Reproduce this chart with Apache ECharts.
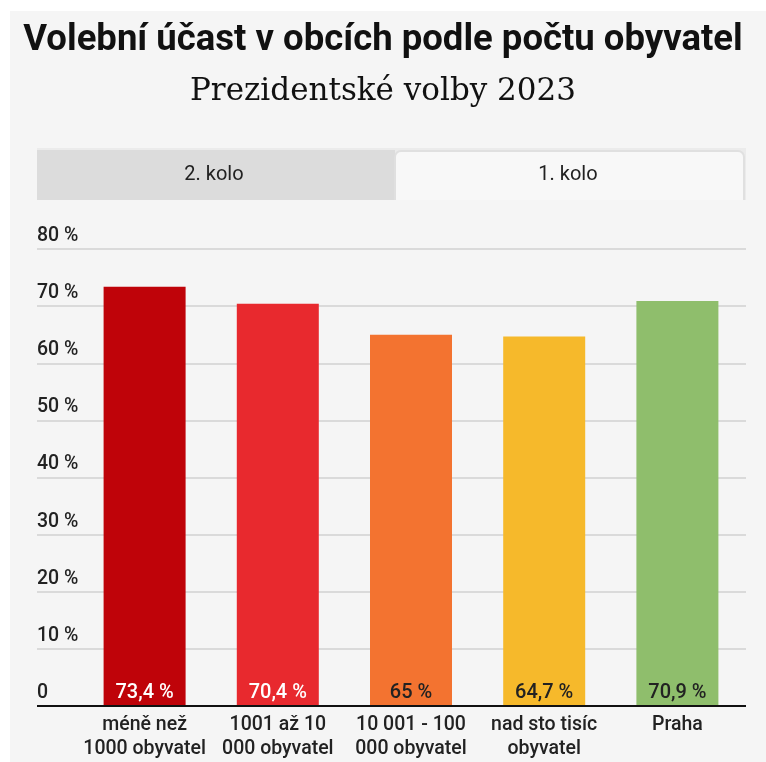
<!DOCTYPE html>
<html lang="cs">
<head>
<meta charset="utf-8">
<title>Volební účast v obcích podle počtu obyvatel</title>
<script src="https://cdn.jsdelivr.net/npm/echarts@6/dist/echarts.min.js"></script>
<style>
    html, body { margin: 0; padding: 0; background: #ffffff; }
    #panel { position: absolute; left: 10px; top: 11px; width: 756px; height: 751px; background: #f5f5f5; }
    #chart { position: absolute; left: 0; top: 0; width: 766px; height: 762px; }
</style>
</head>
<body>
<div id="panel"></div>
<div id="chart"></div>
<script>
// data
const categories = ['méně než\n1000 obyvatel', '1001 až 10\n000 obyvatel', '10 001 - 100\n000 obyvatel', 'nad sto tisíc\nobyvatel', 'Praha'];
const turnout = [73.4, 70.4, 65, 64.7, 70.9];
const barColors = ['#bf0309', '#e8292e', '#f37330', '#f6b92b', '#8fbe6c'];
const labelColors = ['#ffffff', '#ffffff', '#222222', '#222222', '#222222'];
const tabs = ['2. kolo', '1. kolo'];

const FONT = 'Roboto, "Noto Sans", sans-serif';

function fmt(v) {
    return String(v).replace('.', ',') + ' %';
}

const myChart = echarts.init(document.getElementById('chart'), null, { renderer: 'canvas' });

const option = {
    animation: false,
    title: [
        {
            text: 'Volební účast v obcích podle počtu obyvatel',
            left: 'center',
            top: 17,
            textStyle: { fontFamily: FONT, fontSize: 36.5, fontWeight: 'bold', color: '#111111' }
        },
        {
            text: 'Prezidentské volby 2023',
            left: 'center',
            top: 71,
            textStyle: { fontFamily: '"DejaVu Serif", serif', fontSize: 31, fontWeight: 'normal', color: '#111111' }
        }
    ],
    graphic: [
        // tab bar
        { type: 'rect', shape: { x: 37, y: 148, width: 709, height: 52 }, style: { fill: '#ebebeb' }, silent: true },
        { type: 'rect', shape: { x: 37, y: 150, width: 358, height: 50 }, style: { fill: '#dcdcdc' }, silent: true },
        { type: 'rect', shape: { x: 395, y: 151, width: 349, height: 52, r: [6, 6, 0, 0] }, style: { fill: '#f8f8f8', stroke: '#e0e0e0', lineWidth: 2 }, silent: true },
        { type: 'rect', shape: { x: 37, y: 200, width: 720, height: 10 }, style: { fill: '#f5f5f5' }, silent: true },
        { type: 'text', x: 214, y: 175, style: { text: tabs[0], font: '20px ' + FONT, fill: '#222222', align: 'center', verticalAlign: 'middle' }, silent: true },
        { type: 'text', x: 568, y: 175, style: { text: tabs[1], font: '20px ' + FONT, fill: '#222222', align: 'center', verticalAlign: 'middle' }, silent: true }
    ],
    grid: [
        { left: 37, right: 20, top: 249, bottom: 56 },
        { left: 78, right: 22, top: 249, bottom: 56 }
    ],
    xAxis: [
        {
            gridIndex: 0,
            type: 'value',
            show: true,
            axisLine: { show: false },
            axisTick: { show: false },
            axisLabel: { show: false },
            splitLine: { show: false }
        },
        {
            gridIndex: 1,
            type: 'category',
            data: categories,
            axisLine: { show: false },
            axisTick: { show: false },
            axisLabel: {
                interval: 0,
                margin: 7,
                fontFamily: FONT,
                fontSize: 19.5,
                fontWeight: 500,
                color: '#222222',
                lineHeight: 24
            }
        }
    ],
    yAxis: [
        {
            gridIndex: 0,
            type: 'value',
            min: 0,
            max: 80,
            interval: 10,
            axisLine: { show: false },
            axisTick: { show: false },
            splitLine: { lineStyle: { color: '#dadada', width: 2 } },
            axisLabel: {
                inside: true,
                margin: 0,
                verticalAlign: 'bottom',
                padding: [0, 0, 3, 0],
                fontFamily: FONT,
                fontSize: 19.5,
                fontWeight: 500,
                color: '#222222',
                formatter: function(v) { return v === 0 ? '0' : v + ' %'; }
            }
        },
        {
            gridIndex: 1,
            type: 'value',
            min: 0,
            max: 80,
            interval: 10,
            show: false,
            splitLine: { show: false }
        }
    ],
    series: [
        {
            name: 'Volební účast',
            type: 'bar',
            xAxisIndex: 1,
            yAxisIndex: 1,
            barWidth: 82,
            data: turnout.map(function(v, i) {
                return {
                    value: v,
                    itemStyle: { color: barColors[i] },
                    label: { color: labelColors[i] }
                };
            }),
            label: {
                show: true,
                position: 'insideBottom',
                distance: 3,
                fontFamily: FONT,
                fontSize: 20,
                fontWeight: 500,
                formatter: function(p) { return fmt(p.value); }
            },
            z: 2
        },
        {
            // axis base line spanning the whole plot width
            type: 'line',
            xAxisIndex: 0,
            yAxisIndex: 0,
            data: [],
            markLine: {
                silent: true,
                symbol: 'none',
                label: { show: false },
                lineStyle: { color: '#111111', width: 2, type: 'solid' },
                data: [{ yAxis: 0 }]
            },
            z: 5
        }
    ]
};

myChart.setOption(option);
</script>
</body>
</html>
